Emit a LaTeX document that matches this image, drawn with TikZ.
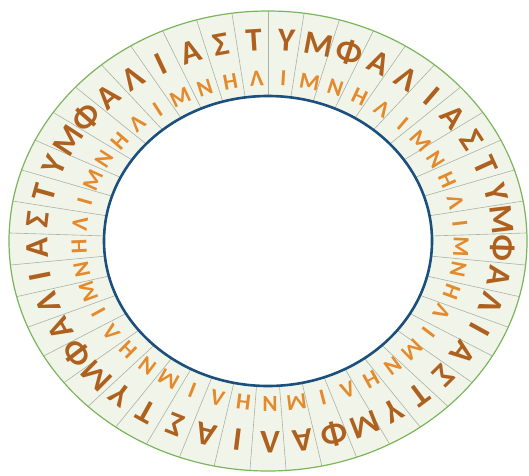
\documentclass[tikz,border=0pt]{standalone}
\usepackage{fontspec}
\setmainfont{Carlito}
\usetikzlibrary{calc}
\definecolor{ringfill}{HTML}{F1F5E9}
\definecolor{outerline}{HTML}{7AB55C}
\definecolor{innerline}{HTML}{1A4F7E}
\definecolor{divline}{HTML}{A9B3A4}
\definecolor{outletter}{HTML}{AE611F}
\definecolor{inletter}{HTML}{E48A2C}
\begin{document}
\begin{tikzpicture}[x=1pt,y=1pt,
  outerlet/.style={inner sep=0pt, font=\bfseries\fontsize{33}{33}\selectfont, text=outletter},
  innerlet/.style={inner sep=0pt, font=\bfseries\fontsize{23}{23}\selectfont, text=inletter}]
\useasboundingbox (0,0) rectangle (529,475);
\coordinate (c) at (268,234);
\coordinate (lc) at (270,234);
\fill[ringfill, even odd rule] (c) ellipse [x radius=259, y radius=230]
  (c) ellipse [x radius=164, y radius=145];
\foreach \j in {0,...,44}{
  \pgfmathsetmacro\a{2+8*\j}
  \coordinate (di\j) at ($(c)+(\a:164 and 145)$);
  \coordinate (do\j) at ($(c)+(\a:259 and 230)$);
  \draw[divline, line width=0.6] (di\j) -- (do\j);
}
\draw[outerline, line width=1.2] (c) ellipse [x radius=259, y radius=230];
\draw[innerline, line width=2.6] (c) ellipse [x radius=164, y radius=145];
\foreach \L/\M [count=\k] in {Α/Ν,Σ/Η,Τ/Λ,Υ/Ι,Μ/Μ,Φ/Ν,Α/Η,Λ/Λ,Ι/Ι,
  Α/Μ,Σ/Ν,Τ/Η,Υ/Λ,Μ/Ι,Φ/Μ,Α/Ν,Λ/Η,Ι/Λ,
  Α/Ι,Σ/Μ,Τ/Ν,Υ/Η,Μ/Λ,Φ/Ι,Α/Μ,Λ/Ν,Ι/Η,
  Α/Λ,Σ/Ι,Τ/Μ,Υ/Ν,Μ/Η,Φ/Λ,Α/Ι,Λ/Μ,Ι/Ν,
  Α/Η,Σ/Λ,Τ/Ι,Υ/Μ,Μ/Ν,Φ/Η,Α/Λ,Λ/Ι,Ι/Μ}{
  \pgfmathsetmacro\t{118-8*\k}
  \pgfmathsetmacro\rot{atan2(259*sin(\t),230*cos(\t))-90}
  \node[outerlet, rotate=\rot] (o\k) at ($(lc)+(\t:233 and 201)$) {\L};
  \node[innerlet, rotate=\rot] (i\k) at ($(lc)+(\t:191 and 163)$) {\M};
}
\end{tikzpicture}
\end{document}
